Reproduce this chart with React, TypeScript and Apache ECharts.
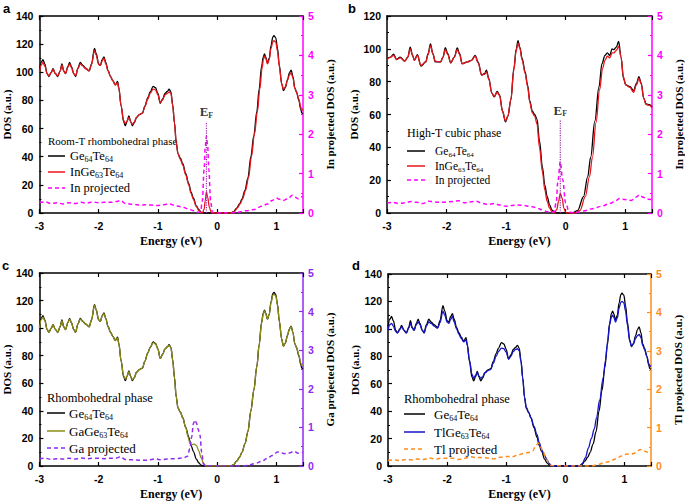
import React, { useEffect, useRef } from "react";
import * as echarts from "echarts";

type Pt = [number, number];

// ---------------- data (Energy eV, DOS) ----------------
const X_MIN = -3;
const X_MAX = 1.45;

// Ge64Te64 rhombohedral (panels a, c, d)
const geTeRhombo: Pt[] = [
  [-3.0, 101], [-2.97, 107], [-2.94, 109], [-2.91, 106], [-2.87, 99], [-2.84, 97], [-2.8, 100], [-2.77, 102.5],
  [-2.73, 99], [-2.69, 97], [-2.65, 101], [-2.62, 106], [-2.59, 101], [-2.56, 99], [-2.52, 104], [-2.49, 107],
  [-2.46, 104], [-2.42, 99], [-2.39, 97], [-2.35, 103], [-2.31, 107], [-2.27, 105], [-2.22, 103], [-2.16, 101],
  [-2.12, 106], [-2.07, 117], [-2.04, 113], [-2.0, 106], [-1.97, 105], [-1.94, 109], [-1.91, 111], [-1.88, 107],
  [-1.84, 101], [-1.8, 97], [-1.76, 94], [-1.72, 91], [-1.68, 93.5], [-1.66, 89], [-1.62, 76], [-1.58, 65],
  [-1.55, 62], [-1.52, 65], [-1.49, 69], [-1.46, 65], [-1.43, 62], [-1.4, 64], [-1.36, 68], [-1.31, 70],
  [-1.26, 71], [-1.22, 76], [-1.17, 82], [-1.13, 86], [-1.08, 90], [-1.04, 89], [-1.0, 85], [-0.96, 78],
  [-0.92, 81], [-0.88, 85], [-0.84, 86.5], [-0.81, 88], [-0.78, 86], [-0.75, 77], [-0.72, 64], [-0.69, 50],
  [-0.66, 42], [-0.62, 39], [-0.58, 35], [-0.53, 28], [-0.48, 21], [-0.44, 15], [-0.4, 10.5], [-0.35, 5],
  [-0.31, 2.3], [-0.27, 0.6], [-0.23, 0], [0.23, 0], [0.28, 1], [0.33, 3.5], [0.38, 6.5], [0.42, 10],
  [0.47, 16], [0.52, 25], [0.57, 40], [0.62, 55], [0.67, 72], [0.71, 88], [0.75, 104], [0.78, 111],
  [0.8, 113], [0.82, 111], [0.85, 106.5], [0.88, 110], [0.91, 119], [0.94, 125], [0.96, 126], [0.99, 124.5],
  [1.02, 117], [1.05, 105], [1.09, 92], [1.12, 87], [1.15, 89], [1.19, 95], [1.22, 99.5], [1.25, 101.5],
  [1.28, 97], [1.31, 89], [1.34, 86], [1.38, 80], [1.41, 74], [1.43, 71], [1.45, 70.5],
];

// InGe63Te64 rhombohedral (panel a)
const inGeTeRhombo: Pt[] = [
  [-3.0, 100], [-2.97, 105], [-2.94, 107], [-2.91, 104.5], [-2.87, 99], [-2.84, 97.5], [-2.8, 100], [-2.77, 102],
  [-2.73, 99], [-2.69, 97.5], [-2.65, 101], [-2.62, 105], [-2.59, 101], [-2.56, 99], [-2.52, 103.5], [-2.49, 106],
  [-2.46, 103.5], [-2.42, 99], [-2.39, 97.5], [-2.35, 102.5], [-2.31, 106], [-2.27, 104.5], [-2.22, 102.5], [-2.16, 101],
  [-2.12, 105.5], [-2.07, 115.5], [-2.04, 112], [-2.0, 105.5], [-1.97, 105], [-1.94, 108], [-1.91, 110], [-1.88, 106],
  [-1.84, 101], [-1.8, 97], [-1.76, 94], [-1.72, 91], [-1.68, 92.5], [-1.66, 88.5], [-1.62, 76], [-1.58, 66],
  [-1.55, 63.5], [-1.52, 65.5], [-1.49, 68], [-1.46, 65], [-1.43, 63], [-1.4, 64.5], [-1.36, 68], [-1.31, 70],
  [-1.26, 71], [-1.22, 75.5], [-1.17, 81], [-1.13, 85], [-1.08, 88], [-1.04, 87.5], [-1.0, 84], [-0.96, 78.5],
  [-0.92, 80.5], [-0.88, 84], [-0.84, 85], [-0.81, 86], [-0.78, 85], [-0.75, 76.5], [-0.72, 64], [-0.69, 50],
  [-0.66, 42], [-0.62, 38], [-0.58, 34], [-0.53, 27], [-0.48, 20], [-0.44, 14], [-0.4, 9.5], [-0.35, 4.5],
  [-0.31, 1.8], [-0.27, 0.3], [-0.25, 0], [-0.22, 2.5], [-0.2, 9], [-0.18, 15], [-0.16, 11], [-0.13, 4],
  [-0.1, 0.5], [-0.08, 0], [0.24, 0], [0.29, 1], [0.34, 3.5], [0.39, 6.5], [0.43, 10], [0.48, 16],
  [0.53, 25], [0.58, 40], [0.63, 56], [0.68, 72], [0.72, 88], [0.76, 103], [0.78, 109], [0.8, 111.5],
  [0.82, 110], [0.85, 106], [0.88, 109], [0.91, 117], [0.94, 121.5], [0.96, 122.5], [0.99, 121.5], [1.02, 115],
  [1.05, 104], [1.09, 92], [1.12, 88], [1.15, 89.5], [1.19, 94.5], [1.22, 98], [1.25, 99.5], [1.28, 96],
  [1.31, 89], [1.34, 86], [1.38, 81], [1.41, 75.5], [1.43, 73], [1.45, 74],
];

// In projected, rhombohedral (panel a, right axis)
const inProjRhombo: Pt[] = [
  [-3.0, 0.27], [-2.9, 0.28], [-2.8, 0.24], [-2.7, 0.26], [-2.6, 0.23], [-2.5, 0.26], [-2.4, 0.24], [-2.3, 0.27],
  [-2.2, 0.25], [-2.1, 0.28], [-2.0, 0.26], [-1.9, 0.27], [-1.8, 0.27], [-1.7, 0.29], [-1.63, 0.32], [-1.55, 0.24],
  [-1.4, 0.22], [-1.3, 0.2], [-1.2, 0.21], [-1.1, 0.2], [-1.0, 0.19], [-0.9, 0.21], [-0.8, 0.23], [-0.7, 0.18],
  [-0.6, 0.16], [-0.5, 0.11], [-0.4, 0.06], [-0.32, 0.02], [-0.28, 0.03], [-0.25, 0.3], [-0.22, 1.1], [-0.2, 1.7], [-0.18, 1.95],
  [-0.16, 1.7], [-0.14, 1.1], [-0.11, 0.3], [-0.08, 0.02], [0.0, 0], [0.25, 0], [0.35, 0.02], [0.5, 0.06], [0.63, 0.09],
  [0.75, 0.17], [0.85, 0.23], [0.93, 0.32], [1.0, 0.38], [1.05, 0.35], [1.12, 0.32], [1.2, 0.37], [1.27, 0.45],
  [1.32, 0.4], [1.37, 0.36], [1.42, 0.41], [1.45, 0.42],
];

// Ge64Te64 cubic (panel b)
const geTeCubic: Pt[] = [
  [-3.0, 94], [-2.94, 95], [-2.89, 96.8], [-2.84, 93.5], [-2.78, 95], [-2.7, 92.5], [-2.65, 95], [-2.61, 101],
  [-2.57, 96], [-2.54, 93], [-2.49, 96.4], [-2.43, 89.5], [-2.35, 92], [-2.31, 97], [-2.27, 103], [-2.23, 97],
  [-2.19, 92], [-2.1, 92], [-2.06, 95], [-2.02, 100.7], [-1.98, 97], [-1.93, 91.5], [-1.87, 95], [-1.82, 100.5],
  [-1.78, 97], [-1.74, 91], [-1.65, 92], [-1.58, 93], [-1.52, 96], [-1.47, 92], [-1.41, 84], [-1.36, 85],
  [-1.33, 87], [-1.29, 82], [-1.24, 73], [-1.2, 70.7], [-1.15, 74], [-1.11, 72], [-1.06, 62], [-1.01, 55.5],
  [-0.97, 59], [-0.92, 69], [-0.87, 88], [-0.83, 100], [-0.8, 105], [-0.77, 101], [-0.73, 94], [-0.68, 86],
  [-0.64, 78], [-0.6, 68], [-0.56, 62], [-0.52, 60], [-0.48, 57], [-0.44, 44], [-0.39, 28], [-0.35, 17],
  [-0.31, 10], [-0.27, 5], [-0.23, 1.8], [-0.18, 0.3], [-0.14, 0], [0.11, 0], [0.2, 1.5], [0.3, 10],
  [0.37, 22], [0.42, 34], [0.49, 56], [0.56, 77], [0.61, 91], [0.66, 96], [0.7, 97.5], [0.74, 96],
  [0.78, 100], [0.81, 99.5], [0.85, 101], [0.89, 104.5], [0.93, 95], [0.97, 82], [1.01, 78], [1.08, 77],
  [1.14, 74.5], [1.19, 79], [1.23, 83], [1.27, 79], [1.31, 70], [1.35, 66.5], [1.41, 66], [1.45, 64.5],
];

// InGe63Te64 cubic (panel b)
const inGeTeCubic: Pt[] = [
  [-3.0, 93.5], [-2.94, 95], [-2.89, 96], [-2.84, 93.5], [-2.78, 94.5], [-2.7, 92.5], [-2.65, 95], [-2.61, 100],
  [-2.57, 96], [-2.54, 93], [-2.49, 96], [-2.43, 90], [-2.35, 92], [-2.31, 96.5], [-2.27, 102], [-2.23, 97],
  [-2.19, 92.5], [-2.1, 92], [-2.06, 95], [-2.02, 99.5], [-1.98, 96.5], [-1.93, 91.5], [-1.87, 95], [-1.82, 99.5],
  [-1.78, 96.5], [-1.74, 91], [-1.65, 92], [-1.58, 93], [-1.52, 95.5], [-1.47, 91.5], [-1.41, 84], [-1.36, 84.5],
  [-1.33, 86], [-1.29, 81.5], [-1.24, 73], [-1.2, 71], [-1.15, 73.5], [-1.11, 71.5], [-1.06, 62], [-1.01, 56],
  [-0.97, 59], [-0.92, 69], [-0.87, 87], [-0.83, 99], [-0.8, 103.5], [-0.77, 100.5], [-0.73, 93], [-0.68, 85],
  [-0.64, 77], [-0.6, 67], [-0.56, 61], [-0.52, 59], [-0.48, 54], [-0.44, 40], [-0.39, 25], [-0.35, 14],
  [-0.31, 7], [-0.27, 3], [-0.23, 0.8], [-0.19, 0], [-0.15, 2], [-0.12, 7], [-0.09, 12], [-0.06, 9],
  [-0.03, 3], [0.0, 0.5], [0.02, 0], [0.16, 0], [0.24, 1.5], [0.33, 10], [0.4, 22], [0.45, 34],
  [0.51, 55], [0.57, 75], [0.62, 88], [0.66, 93], [0.7, 95.5], [0.74, 94.5], [0.78, 97.5], [0.81, 97.5],
  [0.85, 99], [0.89, 101.5], [0.93, 95], [0.97, 83], [1.01, 78], [1.08, 76.5], [1.14, 73.5], [1.19, 78],
  [1.23, 82], [1.27, 78.5], [1.31, 70], [1.35, 66], [1.41, 65.5], [1.45, 64],
];

// In projected, cubic (panel b, right axis)
const inProjCubic: Pt[] = [
  [-3.0, 0.26], [-2.9, 0.27], [-2.8, 0.24], [-2.7, 0.26], [-2.6, 0.29], [-2.5, 0.27], [-2.4, 0.24], [-2.3, 0.3],
  [-2.2, 0.28], [-2.1, 0.27], [-2.0, 0.28], [-1.9, 0.29], [-1.8, 0.31], [-1.7, 0.26], [-1.6, 0.28], [-1.5, 0.3],
  [-1.4, 0.24], [-1.3, 0.22], [-1.2, 0.24], [-1.1, 0.2], [-1.0, 0.17], [-0.9, 0.19], [-0.8, 0.2], [-0.7, 0.19],
  [-0.6, 0.17], [-0.5, 0.14], [-0.4, 0.08], [-0.3, 0.03], [-0.2, 0.02], [-0.16, 0.25], [-0.13, 0.8], [-0.09, 1.3],
  [-0.05, 0.85], [0.0, 0.25], [0.06, 0.02], [0.15, 0], [0.3, 0.05], [0.45, 0.11], [0.6, 0.17], [0.75, 0.25],
  [0.85, 0.32], [0.9, 0.37], [1.0, 0.34], [1.1, 0.32], [1.18, 0.4], [1.24, 0.46], [1.3, 0.4], [1.38, 0.35],
  [1.45, 0.34],
];

// GaGe63Te64 rhombohedral (panel c)
const gaGeTeRhombo: Pt[] = [
  [-3.0, 100], [-2.97, 106], [-2.94, 108], [-2.91, 105.5], [-2.87, 99], [-2.84, 97], [-2.8, 100], [-2.77, 102.5],
  [-2.73, 99], [-2.69, 97], [-2.65, 101], [-2.62, 105.5], [-2.59, 101], [-2.56, 99], [-2.52, 104], [-2.49, 106.5],
  [-2.46, 104], [-2.42, 99], [-2.39, 97], [-2.35, 103], [-2.31, 106.5], [-2.27, 105], [-2.22, 103], [-2.16, 101],
  [-2.12, 106], [-2.07, 116.5], [-2.04, 113], [-2.0, 106], [-1.97, 105], [-1.94, 109], [-1.91, 110.5], [-1.88, 107],
  [-1.84, 101], [-1.8, 97], [-1.76, 94], [-1.72, 91], [-1.68, 93], [-1.66, 89], [-1.62, 76], [-1.58, 65.5],
  [-1.55, 63], [-1.52, 65.5], [-1.49, 68.5], [-1.46, 65], [-1.43, 62.5], [-1.4, 64], [-1.36, 68], [-1.31, 70],
  [-1.26, 71], [-1.22, 76], [-1.17, 82], [-1.13, 86], [-1.08, 89.5], [-1.04, 88.5], [-1.0, 85], [-0.96, 78],
  [-0.92, 81], [-0.88, 85], [-0.84, 86.5], [-0.81, 87.5], [-0.78, 86], [-0.75, 77], [-0.72, 64], [-0.69, 50],
  [-0.66, 42], [-0.62, 39], [-0.58, 35], [-0.53, 28], [-0.49, 21], [-0.46, 16.5], [-0.43, 15.5], [-0.39, 15.8],
  [-0.35, 15], [-0.31, 11], [-0.27, 6], [-0.23, 2], [-0.19, 0], [0.23, 0], [0.28, 1], [0.33, 3.5],
  [0.38, 6.5], [0.42, 10], [0.47, 16], [0.52, 25], [0.57, 40], [0.62, 55], [0.67, 72], [0.71, 88],
  [0.75, 103.5], [0.78, 110.5], [0.8, 112.5], [0.82, 110.5], [0.85, 106.5], [0.88, 110], [0.91, 118.5], [0.94, 124],
  [0.96, 124.5], [0.99, 123.5], [1.02, 116.5], [1.05, 105], [1.09, 92], [1.12, 87], [1.15, 89], [1.19, 95],
  [1.22, 99.5], [1.25, 101], [1.28, 97], [1.31, 89], [1.34, 86], [1.38, 80.5], [1.41, 75], [1.43, 73],
  [1.45, 73.5],
];

// Ga projected (panel c, right axis)
const gaProj: Pt[] = [
  [-3.0, 0.19], [-2.9, 0.2], [-2.8, 0.17], [-2.7, 0.19], [-2.6, 0.18], [-2.5, 0.2], [-2.4, 0.18], [-2.3, 0.21],
  [-2.2, 0.19], [-2.1, 0.2], [-2.0, 0.2], [-1.9, 0.19], [-1.8, 0.2], [-1.7, 0.21], [-1.63, 0.24], [-1.55, 0.17],
  [-1.4, 0.16], [-1.3, 0.15], [-1.2, 0.15], [-1.1, 0.17], [-1.05, 0.19], [-0.95, 0.16], [-0.85, 0.18], [-0.7, 0.19],
  [-0.57, 0.21], [-0.5, 0.25], [-0.46, 0.45], [-0.43, 0.75], [-0.4, 1.1], [-0.375, 1.19], [-0.35, 1.12], [-0.32, 0.95],
  [-0.29, 0.8], [-0.26, 0.35], [-0.23, 0.05], [-0.2, 0.01], [0.0, 0], [0.45, 0], [0.55, 0.03], [0.65, 0.07],
  [0.75, 0.12], [0.85, 0.2], [0.93, 0.27], [1.02, 0.36], [1.08, 0.34], [1.14, 0.32], [1.22, 0.34], [1.3, 0.38],
  [1.37, 0.33], [1.45, 0.36],
];

// TlGe63Te64 rhombohedral (panel d)
const tlGeTeRhombo: Pt[] = [
  [-3.0, 99], [-2.97, 103], [-2.94, 104], [-2.91, 102], [-2.87, 98], [-2.84, 97], [-2.8, 99.5], [-2.77, 101.5],
  [-2.73, 99], [-2.69, 97], [-2.65, 100.5], [-2.62, 104], [-2.59, 100.5], [-2.56, 99], [-2.52, 103], [-2.49, 105],
  [-2.46, 103], [-2.42, 99], [-2.39, 97], [-2.35, 102], [-2.31, 105], [-2.27, 104], [-2.22, 102], [-2.16, 100.5],
  [-2.12, 104.5], [-2.07, 113], [-2.04, 110], [-2.0, 105], [-1.97, 104], [-1.94, 107], [-1.91, 109], [-1.88, 105],
  [-1.84, 100], [-1.8, 96], [-1.76, 93], [-1.72, 90.5], [-1.68, 92], [-1.66, 88], [-1.62, 77], [-1.58, 67],
  [-1.55, 64], [-1.52, 66], [-1.49, 68], [-1.46, 65.5], [-1.43, 64], [-1.4, 65], [-1.36, 68], [-1.31, 69.5],
  [-1.26, 70.5], [-1.22, 75], [-1.17, 80], [-1.13, 83.5], [-1.08, 86], [-1.04, 85.5], [-1.0, 83], [-0.96, 78],
  [-0.92, 80], [-0.88, 83.5], [-0.84, 85], [-0.81, 85.5], [-0.78, 84], [-0.75, 76], [-0.72, 64], [-0.69, 50],
  [-0.66, 43], [-0.62, 39], [-0.58, 35], [-0.53, 29], [-0.48, 23], [-0.44, 17], [-0.4, 12], [-0.35, 7.5],
  [-0.31, 4.5], [-0.27, 1.8], [-0.24, 0.3], [-0.22, 0], [0.25, 0], [0.29, 2], [0.34, 6], [0.39, 13],
  [0.44, 20], [0.49, 27], [0.53, 35.5], [0.58, 48], [0.64, 64], [0.68, 77], [0.72, 92], [0.75, 103],
  [0.78, 108.5], [0.8, 110], [0.82, 108.5], [0.85, 105], [0.88, 108], [0.91, 115], [0.94, 119.5], [0.96, 120],
  [0.99, 119], [1.02, 113], [1.05, 103], [1.09, 91], [1.12, 87.5], [1.15, 89], [1.19, 93], [1.22, 95],
  [1.25, 96], [1.28, 93.5], [1.31, 88], [1.34, 85], [1.38, 80], [1.41, 75], [1.43, 72.5], [1.45, 73.5],
];

// Tl projected (panel d, right axis)
const tlProj: Pt[] = [
  [-3.0, 0.15], [-2.9, 0.16], [-2.8, 0.14], [-2.7, 0.17], [-2.6, 0.16], [-2.5, 0.18], [-2.4, 0.17], [-2.3, 0.21],
  [-2.2, 0.18], [-2.1, 0.2], [-2.0, 0.2], [-1.9, 0.2], [-1.8, 0.17], [-1.7, 0.2], [-1.6, 0.24], [-1.5, 0.22],
  [-1.4, 0.22], [-1.3, 0.21], [-1.2, 0.19], [-1.1, 0.23], [-1.0, 0.25], [-0.9, 0.24], [-0.8, 0.29], [-0.7, 0.33],
  [-0.6, 0.36], [-0.55, 0.4], [-0.5, 0.52], [-0.46, 0.6], [-0.42, 0.5], [-0.38, 0.38], [-0.33, 0.24], [-0.28, 0.08],
  [-0.23, 0.01], [0.0, 0], [0.45, 0], [0.55, 0.04], [0.65, 0.08], [0.75, 0.12], [0.85, 0.18], [0.95, 0.26],
  [1.04, 0.31], [1.1, 0.3], [1.18, 0.34], [1.27, 0.43], [1.33, 0.39], [1.4, 0.36], [1.45, 0.4],
];

// Fermi levels and marker heights (right axis units)
const EF_A = -0.18;
const EF_B = -0.09;
const EF_TOP_A = 2.32;
const EF_TOP_B = 2.36;

// Axis ranges
const Y_MAX_RHOMBO = 140;
const Y_MAX_CUBIC = 120;
const Y_INTERVAL = 20;
const Y2_MAX = 5;

// ---------------- styling ----------------
const SANS = "'Liberation Sans', Arial, sans-serif";
const SERIF = "'Liberation Serif', 'Times New Roman', serif";
const BLACK = "#000000";
const RED = "#e8161c";
const MAGENTA = "#ff00ff";
const OLIVE = "#8c8c14";
const PURPLE = "#8f2af0";
const BLUE = "#1414c8";
const ORANGE = "#ff8c1a";
const EF_COLOR = "#9a2aa6";

type Panel = {
  label: string;
  grid: { left: number; top: number; width: number; height: number };
  yMax: number;
  base: Pt[];
  doped: Pt[];
  dopedColor: string;
  proj: Pt[];
  projColor: string;
  rightName: string;
  ef?: number;
  efTop?: number;
  legend: {
    title: string;
    titleSize: number;
    itemSize: number;
    x0: number;
    x1: number;
    tx: number;
    ty: number;
    rows: number[];
    doped: string;
    proj: string;
  };
  labelPos: [number, number];
};

const sub = (a: string, b: string) => `{n|${a}}{s|${b}}`;

const PANELS: Panel[] = [
  {
    label: "a",
    grid: { left: 37, top: 16, width: 266, height: 197 },
    yMax: Y_MAX_RHOMBO,
    base: geTeRhombo,
    doped: inGeTeRhombo,
    dopedColor: RED,
    proj: inProjRhombo,
    projColor: MAGENTA,
    rightName: "In projected DOS (a.u.)",
    ef: EF_A,
    efTop: EF_TOP_A,
    legend: {
      title: "Room-T rhombohedral phase",
      titleSize: 11,
      itemSize: 12.5,
      x0: 48,
      x1: 65,
      tx: 70,
      ty: 141,
      rows: [156, 172, 188],
      doped: "{n|In}" + sub("Ge", "63") + sub("Te", "64"),
      proj: "{n|In projected}",
    },
    labelPos: [3, 2],
  },
  {
    label: "b",
    grid: { left: 387, top: 16, width: 265, height: 197 },
    yMax: Y_MAX_CUBIC,
    base: geTeCubic,
    doped: inGeTeCubic,
    dopedColor: RED,
    proj: inProjCubic,
    projColor: MAGENTA,
    rightName: "In projected DOS (a.u.)",
    ef: EF_B,
    efTop: EF_TOP_B,
    legend: {
      title: "High-T cubic phase",
      titleSize: 12,
      itemSize: 11.5,
      x0: 407,
      x1: 425,
      tx: 435,
      ty: 133,
      rows: [151, 166, 180],
      doped: "{n|In}" + sub("Ge", "63") + sub("Te", "64"),
      proj: "{n|In projected}",
    },
    labelPos: [348, 2],
  },
  {
    label: "c",
    grid: { left: 37, top: 273, width: 266, height: 197 },
    yMax: Y_MAX_RHOMBO,
    base: geTeRhombo,
    doped: gaGeTeRhombo,
    dopedColor: OLIVE,
    proj: gaProj,
    projColor: PURPLE,
    rightName: "Ga projected DOS (a.u.)",
    legend: {
      title: "Rhombohedral phase",
      titleSize: 12.5,
      itemSize: 13,
      x0: 47,
      x1: 65,
      tx: 69,
      ty: 398,
      rows: [413, 431, 448],
      doped: "{n|Ga}" + sub("Ge", "63") + sub("Te", "64"),
      proj: "{n|Ga projected}",
    },
    labelPos: [2, 259],
  },
  {
    label: "d",
    grid: { left: 388, top: 274, width: 263, height: 196 },
    yMax: Y_MAX_RHOMBO,
    base: geTeRhombo,
    doped: tlGeTeRhombo,
    dopedColor: BLUE,
    proj: tlProj,
    projColor: ORANGE,
    rightName: "Tl projected DOS (a.u.)",
    legend: {
      title: "Rhombohedral phase",
      titleSize: 12.5,
      itemSize: 13,
      x0: 404,
      x1: 425,
      tx: 434,
      ty: 399,
      rows: [414, 432, 449],
      doped: "{n|Tl}" + sub("Ge", "63") + sub("Te", "64"),
      proj: "{n|Tl projected}",
    },
    labelPos: [352, 259],
  },
];

function buildOption() {
  const grid: any[] = [];
  const xAxis: any[] = [];
  const yAxis: any[] = [];
  const series: any[] = [];
  const graphic: any[] = [];

  PANELS.forEach((p, i) => {
    grid.push({ ...p.grid, containLabel: false });
    const xBase = {
      type: "value",
      gridIndex: i,
      min: X_MIN,
      max: X_MAX,
      interval: 1,
      splitLine: { show: false },
      axisLine: { show: true, onZero: false, lineStyle: { color: BLACK, width: 1.5 } },
      axisTick: { show: true, inside: true, length: 4, lineStyle: { color: BLACK, width: 1.2 } },
    };
    xAxis.push({
      ...xBase,
      position: "bottom",
      axisLabel: {
        show: true,
        margin: 7,
        color: BLACK,
        fontFamily: SANS,
        fontWeight: "bold",
        fontSize: 10.5,
        formatter: (v: number) => (Math.abs(v - Math.round(v)) < 1e-6 ? String(Math.round(v)) : ""),
      },
      name: "Energy (eV)",
      nameLocation: "middle",
      nameGap: 22,
      nameTextStyle: { color: BLACK, fontFamily: SERIF, fontWeight: "bold", fontSize: 12 },
    });
    xAxis.push({ ...xBase, position: "top", axisLabel: { show: false } });

    yAxis.push({
      type: "value",
      gridIndex: i,
      position: "left",
      min: 0,
      max: p.yMax,
      interval: Y_INTERVAL,
      splitLine: { show: false },
      axisLine: { show: true, onZero: false, lineStyle: { color: BLACK, width: 1.5 } },
      axisTick: { show: true, inside: true, length: 4, lineStyle: { color: BLACK, width: 1.2 } },
      minorTick: { show: true, splitNumber: 2, length: 2, lineStyle: { color: BLACK, width: 1 } },
      axisLabel: { margin: 6, color: BLACK, fontFamily: SANS, fontWeight: "bold", fontSize: 10.5 },
      name: "DOS (a.u.)",
      nameLocation: "middle",
      nameGap: 19,
      nameRotate: 90,
      nameTextStyle: { color: BLACK, fontFamily: SERIF, fontWeight: "bold", fontSize: 11 },
    });
    yAxis.push({
      type: "value",
      gridIndex: i,
      position: "right",
      min: 0,
      max: Y2_MAX,
      interval: 1,
      splitLine: { show: false },
      axisLine: { show: true, onZero: false, lineStyle: { color: p.projColor, width: 1.5 } },
      axisTick: { show: true, inside: true, length: 4, lineStyle: { color: p.projColor, width: 1.2 } },
      minorTick: { show: true, splitNumber: 2, length: 2, lineStyle: { color: p.projColor, width: 1 } },
      axisLabel: { margin: 5, color: p.projColor, fontFamily: SANS, fontWeight: "bold", fontSize: 10.5 },
      name: p.rightName,
      nameLocation: "middle",
      nameGap: 21,
      nameRotate: 90,
      nameTextStyle: { color: BLACK, fontFamily: SERIF, fontWeight: "bold", fontSize: 11 },
    });

    const xi = 2 * i;
    const yl = 2 * i;
    const yr = 2 * i + 1;
    const common = {
      type: "line",
      xAxisIndex: xi,
      showSymbol: false,
      symbol: "none",
      smooth: 0.35,
      smoothMonotone: "x",
      silent: true,
    };
    series.push({
      ...common,
      yAxisIndex: yl,
      data: p.base,
      z: 2,
      lineStyle: { color: BLACK, width: 1.3 },
    });
    series.push({
      ...common,
      yAxisIndex: yl,
      data: p.doped,
      z: 3,
      lineStyle: { color: p.dopedColor, width: 1.3 },
    });
    series.push({
      ...common,
      yAxisIndex: yr,
      data: p.proj,
      z: 4,
      lineStyle: { color: p.projColor, width: 1.5, type: [4, 3] },
    });
    if (p.ef !== undefined && p.efTop !== undefined) {
      series.push({
        type: "line",
        xAxisIndex: xi,
        yAxisIndex: yr,
        symbol: "none",
        silent: true,
        z: 5,
        data: [
          [p.ef, 0],
          [p.ef, p.efTop],
        ],
        lineStyle: { color: EF_COLOR, width: 1.2, type: "dotted" },
      });
      series.push({
        type: "scatter",
        xAxisIndex: xi,
        yAxisIndex: yr,
        symbol: "circle",
        symbolSize: 1,
        silent: true,
        z: 6,
        itemStyle: { color: "rgba(0,0,0,0)" },
        data: [[p.ef, p.efTop]],
        label: {
          show: true,
          position: "top",
          distance: 2,
          fontFamily: SERIF,
          fontWeight: "bold",
          fontSize: 13,
          color: BLACK,
          formatter: "{e|E}{f|F}",
          rich: {
            e: { fontFamily: SERIF, fontWeight: 700, fontSize: 13, color: BLACK, lineHeight: 15 },
            f: {
              fontFamily: SERIF,
              fontWeight: 700,
              fontSize: 8,
              color: BLACK,
              lineHeight: 9,
              verticalAlign: "bottom",
            },
          },
        },
      });
    }

    // panel label
    graphic.push({
      type: "text",
      left: p.labelPos[0],
      top: p.labelPos[1],
      style: { text: p.label, fontFamily: SANS, fontWeight: "bold", fontSize: 13, fill: BLACK },
    });

    // legend
    const L = p.legend;
    const rich = {
      n: { fontFamily: SERIF, fontSize: L.itemSize, fill: BLACK, lineHeight: L.itemSize + 3 },
      s: {
        fontFamily: SERIF,
        fontSize: Math.round(L.itemSize * 0.62),
        fill: BLACK,
        lineHeight: Math.round(L.itemSize * 0.7),
        verticalAlign: "bottom",
      },
    };
    graphic.push({
      type: "text",
      x: L.x0,
      y: L.ty,
      style: {
        text: L.title,
        fontFamily: SERIF,
        fontSize: L.titleSize,
        fill: BLACK,
        verticalAlign: "middle",
      },
    });
    const rows = [
      { text: sub("Ge", "64") + sub("Te", "64"), color: BLACK, dash: false },
      { text: L.doped, color: p.dopedColor, dash: false },
      { text: L.proj, color: p.projColor, dash: true },
    ];
    rows.forEach((r, k) => {
      const y = L.rows[k];
      graphic.push({
        type: "line",
        shape: { x1: L.x0, y1: y, x2: L.x1, y2: y },
        style: {
          stroke: r.color,
          lineWidth: 1.5,
          lineDash: r.dash ? [4, 3] : null,
        },
      });
      graphic.push({
        type: "text",
        x: L.tx,
        y: y,
        style: { text: r.text, rich, verticalAlign: "middle", fill: BLACK },
      });
    });
  });

  return {
    animation: false,
    backgroundColor: "#ffffff",
    grid,
    xAxis,
    yAxis,
    series,
    graphic,
  };
}

export default function App() {
  const ref = useRef<HTMLDivElement>(null);
  useEffect(() => {
    if (!ref.current) return;
    const chart = echarts.init(ref.current, undefined, { renderer: "svg" });
    chart.setOption(buildOption() as any);
    return () => chart.dispose();
  }, []);
  return (
    <div
      ref={ref}
      style={{ position: "absolute", left: 0, top: 0, width: 685, height: 501, background: "#fff" }}
    />
  );
}
